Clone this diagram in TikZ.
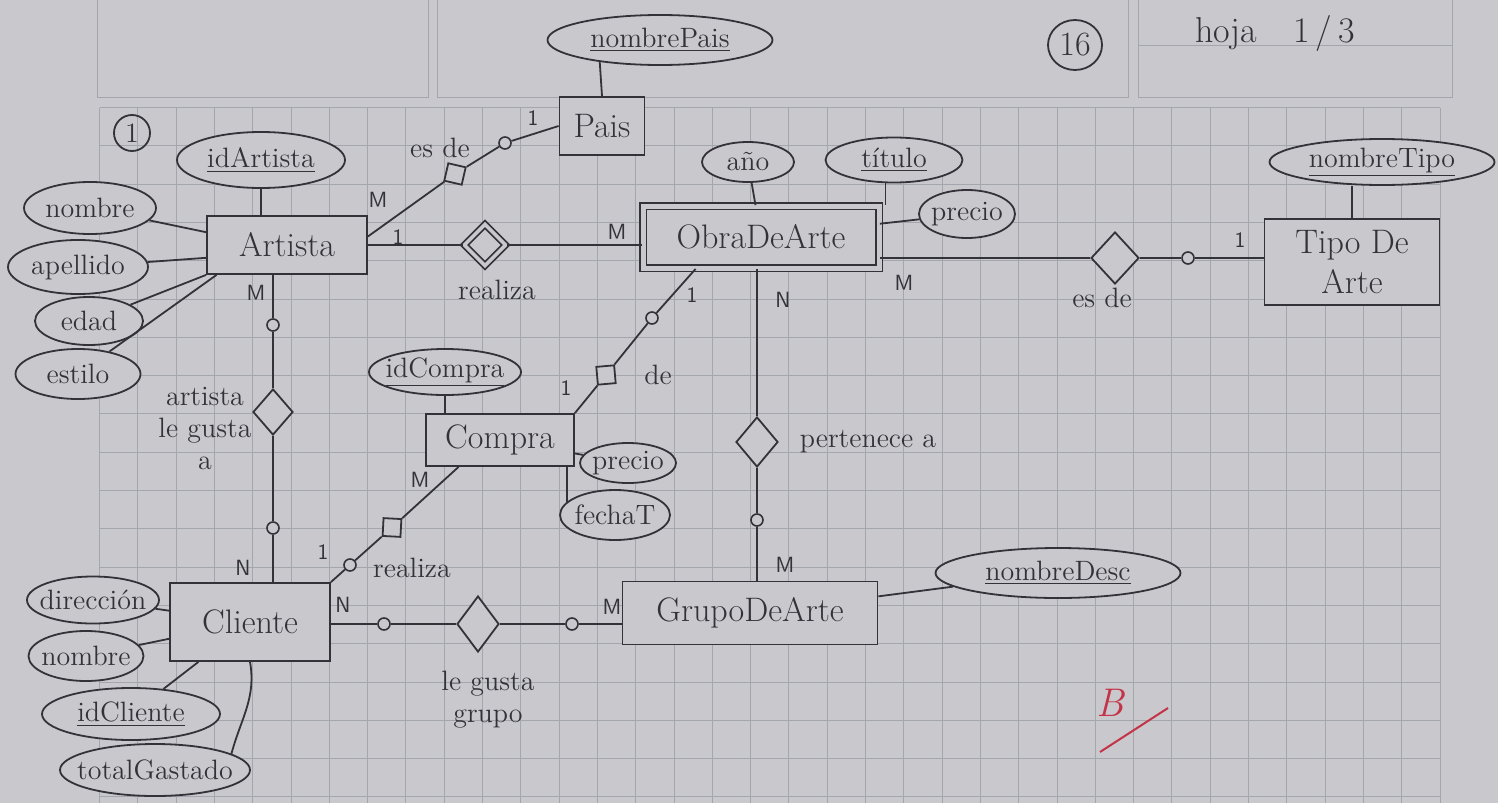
\documentclass[tikz,border=0pt]{standalone}
\usetikzlibrary{shapes.geometric}
\definecolor{paper}{RGB}{201,201,205}
\definecolor{gridc}{RGB}{163,167,173}
\definecolor{ink}{RGB}{50,50,56}
\definecolor{redink}{RGB}{196,52,72}
\newcommand{\zb}[1]{\makebox[0pt]{#1}}
\begin{document}
\begin{tikzpicture}[x=0.5pt,y=-0.5pt,
  every node/.style={text=ink},
  ln/.style={draw=ink,line width=0.9pt},
  gl/.style={draw=gridc,line width=0.5pt},
  ent/.style={rectangle,draw=ink,line width=0.9pt,fill=paper,font=\fontsize{17}{20}\selectfont,inner sep=2pt},
  wk/.style={ent,double=paper,double distance=2.5pt},
  attr/.style={ellipse,draw=ink,line width=0.9pt,fill=paper,inner sep=0pt,font=\fontsize{14}{16}\selectfont},
  rel/.style={diamond,draw=ink,line width=0.9pt,fill=paper,inner sep=0pt},
  smallrel/.style={rel,minimum width=13pt,minimum height=13pt},
  opt/.style={circle,draw=ink,line width=0.8pt,fill=paper,inner sep=0pt,minimum size=6pt},
  card/.style={font=\sffamily\fontsize{11}{13}\selectfont,inner sep=1pt},
  lab/.style={font=\fontsize{14}{16}\selectfont,inner sep=1pt,align=center},
]
\useasboundingbox (0,0) rectangle (1498,803);
\fill[paper] (0,0) rectangle (1498,803);
% paper grid
\foreach \i in {0,...,35} {\pgfmathsetmacro{\gx}{round(99+38.3*\i)+0.5}\draw[gl] (\gx,107.5) -- (\gx,803);}
\foreach \j in {0,...,18} {\pgfmathsetmacro{\gy}{round(107+38.3*\j)+0.5}\draw[gl] (99.5,\gy) -- (1439.5,\gy);}
\draw[gl] (97.5,-2) rectangle (428.5,97.5);
\draw[gl] (437.5,-2) rectangle (1128.5,97.5);
\draw[gl] (1138.5,-2) rectangle (1452.5,97.5);
\draw[gl] (1138.5,45.5) -- (1452.5,45.5);

% header
\node[circle,draw=ink,line width=0.9pt,inner sep=0pt,minimum size=18pt,font=\fontsize{14}{16}\selectfont] (n1) at (132,133) {1};
\node[ellipse,draw=ink,line width=0.9pt,inner sep=0pt,minimum width=27pt,minimum height=25pt,font=\fontsize{17}{20}\selectfont] (n16) at (1075,45) {16};
\node[font=\fontsize{18}{20}\selectfont] (hoja) at (1275,33) {hoja\quad 1\,/\,3};

% entities
\node[ent,minimum width=80pt,minimum height=29pt] (artista) at (287,245) {Artista};
\node[ent,minimum width=42.5pt,minimum height=29pt] (pais) at (602,126) {Pais};
\node[wk,minimum width=118pt,minimum height=31pt] (obra) at (761,237) {ObraDeArte};
\node[ent,minimum width=87.5pt,minimum height=43pt,align=center] (tipo) at (1352,262) {Tipo De\\Arte};
\node[ent,minimum width=74pt,minimum height=26pt] (compra) at (500,440) {Compra};
\node[ent,minimum width=80pt,minimum height=39pt] (cliente) at (250,622) {Cliente};
\node[ent,minimum width=127.5pt,minimum height=31.5pt] (grupo) at (750,613) {GrupoDeArte};

% attributes
\node[attr,minimum width=112.5pt,minimum height=25pt] (nombrePais) at (660,40) {\zb{\underline{nombrePais}}};
\node[attr,minimum width=84pt,minimum height=28pt] (idArtista) at (261,160) {\zb{\underline{idArtista}}};
\node[attr,minimum width=66pt,minimum height=26pt] (nombreA) at (90,208) {\zb{nombre}};
\node[attr,minimum width=70pt,minimum height=27pt] (apellido) at (78,267) {\zb{apellido}};
\node[attr,minimum width=54pt,minimum height=24pt] (edad) at (89,321) {\zb{edad}};
\node[attr,minimum width=62.5pt,minimum height=25pt] (estilo) at (78,374) {\zb{estilo}};
\node[attr,minimum width=46pt,minimum height=20pt] (anio) at (748,162) {\zb{año}};
\node[attr,minimum width=68.5pt,minimum height=22.5pt] (titulo) at (894,160) {\zb{\underline{título}}};
\node[attr,minimum width=48pt,minimum height=24pt] (precioO) at (967,214) {\zb{precio}};
\node[attr,minimum width=112.5pt,minimum height=23pt] (nombreTipo) at (1382,162) {\zb{\underline{nombreTipo}}};
\node[attr,minimum width=76pt,minimum height=23pt] (idCompra) at (445,372) {\zb{\underline{idCompra}}};
\node[attr,minimum width=48pt,minimum height=20pt] (precioC) at (628,463) {\zb{precio}};
\node[attr,minimum width=55pt,minimum height=25pt] (fechaT) at (615,515) {\zb{fechaT}};
\node[attr,minimum width=122.5pt,minimum height=25pt] (nombreDesc) at (1058,573) {\zb{\underline{nombreDesc}}};
\node[attr,minimum width=66pt,minimum height=23.5pt] (direccion) at (93,600) {\zb{dirección}};
\node[attr,minimum width=57.5pt,minimum height=25pt] (nombreC) at (86,656) {\zb{nombre}};
\node[attr,minimum width=89pt,minimum height=26pt] (idCliente) at (131,714) {\zb{\underline{idCliente}}};
\node[attr,minimum width=95pt,minimum height=26pt] (totalGastado) at (155,770) {\zb{totalGastado}};

% relationships and optionality circles
\node[smallrel,rotate=32] (esdeP) at (455,174) {};
\node[opt] (cP) at (505,143) {};
\node[rel,double=paper,double distance=1.8pt,minimum width=21pt,minimum height=21pt] (realizaAO) at (485,245) {};
\node[rel,minimum width=24pt,minimum height=26pt] (esdeT) at (1115,258) {};
\node[opt] (cT) at (1188,258) {};
\node[smallrel,rotate=50] (deR) at (606,375) {};
\node[opt] (cO) at (652,318) {};
\node[rel,minimum width=21pt,minimum height=25pt] (perten) at (757,442) {};
\node[opt] (cG) at (757,520) {};
\node[opt] (cA1) at (273,325) {};
\node[rel,minimum width=20pt,minimum height=23pt] (gustaA) at (273,412) {};
\node[opt] (cA2) at (273,528) {};
\node[smallrel,rotate=42] (realizaCC) at (392,527.5) {};
\node[opt] (cC) at (350,565) {};
\node[opt] (cL1) at (384,624) {};
\node[rel,minimum width=21pt,minimum height=28pt] (gustaG) at (478,624) {};
\node[opt] (cL2) at (572,624) {};

% relationship connectors
\draw[ln] (artista.6) -- (esdeP) -- (cP) -- (pais.west);
\draw[ln] (artista.east) -- (realizaAO) -- (realizaAO -| obra.west);
\draw[ln] (obra.east |- esdeT) -- (esdeT) -- (cT) -- (cT -| tipo.west);
\draw[ln] (compra.north east) -- (deR) -- (cO) -- (obra.206);
\draw[ln] (obra.south -| perten) -- (perten) -- (cG) -- (cG |- grupo.north);
\draw[ln] (artista.south -| cA1) -- (cA1) -- (gustaA) -- (cA2) -- (cA2 |- cliente.north);
\draw[ln] (compra.213) -- (realizaCC) -- (cC) -- (cliente.north east);
\draw[ln] (cliente.east |- cL1) -- (cL1) -- (gustaG) -- (cL2) -- (cL2 -| grupo.west);

% attribute connectors
\draw[ln] (idArtista) -- (idArtista |- artista.north);
\draw[ln] (nombreA) -- (artista.171);
\draw[ln] (apellido) -- (artista.189);
\draw[ln] (edad) -- (artista.south west);
\draw[ln] (estilo) -- (artista.203);
\draw[ln] (nombrePais.200) -- (pais.north);
\draw[ln] (anio) -- (obra);
\draw[ln] (titulo.250) -- (titulo.250 |- obra.north);
\draw[ln] (precioO) -- (obra);
\draw[ln] (tipo.north) -- (tipo.north |- nombreTipo.south);
\draw[ln] (idCompra) -- (idCompra |- compra.north);
\draw[ln] (precioC) -- (compra);
\draw[ln] (fechaT.165) -- (fechaT.165 |- compra.south);
\draw[ln] (nombreDesc) -- (grupo);
\draw[ln] (direccion) -- (cliente);
\draw[ln] (nombreC) -- (cliente);
\draw[ln] (idCliente) -- (cliente);
\draw[ln] (cliente.south) to[out=-80,in=75] (totalGastado.12);

% cardinalities
\node[card] (k1) at (378,200) {M};
\node[card] (k2) at (533,118) {1};
\node[card] (k3) at (398,237) {1};
\node[card] (k4) at (617,232) {M};
\node[card] (k5) at (904,283) {M};
\node[card] (k6) at (1240,240) {1};
\node[card] (k7) at (692,295) {1};
\node[card] (k8) at (566,388) {1};
\node[card] (k9) at (783,300) {N};
\node[card] (k10) at (785,565) {M};
\node[card] (k11) at (256,293) {M};
\node[card] (k12) at (243,568) {N};
\node[card] (k13) at (420,480) {M};
\node[card] (k14) at (323,552) {1};
\node[card] (k15) at (343,605) {N};
\node[card] (k16) at (612,607) {M};

% relationship names
\node[lab] (l1) at (440,148) {es de};
\node[lab] (l2) at (497,290) {realiza};
\node[lab] (l3) at (1102,298) {es de};
\node[lab] (l4) at (658,375) {de};
\node[lab] (l5) at (868,442) {pertenece a};
\node[lab] (l6) at (205,428) {artista\\le gusta\\a};
\node[lab] (l7) at (412,568) {realiza};
\node[lab] (l8) at (488,700) {le gusta\\grupo};

% grade mark
\node[text=redink,font=\fontsize{20}{22}\selectfont\itshape] (nota) at (1110,703) {B};
\draw[redink,line width=1pt] (1100,752) -- (1168,708);
\end{tikzpicture}
\end{document}
